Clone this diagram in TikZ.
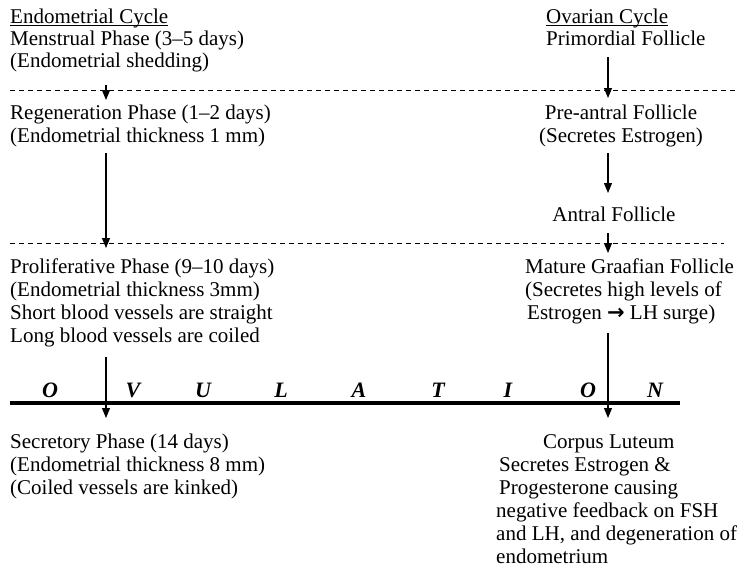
\documentclass[tikz,border=0pt]{standalone}
\usepackage{fontspec}
\setmainfont{Liberation Serif}
\newfontfamily\symfont{DejaVu Sans}
\usetikzlibrary{arrows.meta}
\begin{document}
\begin{tikzpicture}[x=1pt,y=-1pt,
  txt/.style={anchor=base west,inner sep=0pt,font=\fontsize{21}{22}\selectfont},
  ctxt/.style={anchor=base,inner sep=0pt,font=\fontsize{21}{22}\selectfont},
  ovl/.style={anchor=base,inner sep=0pt,font=\fontsize{22}{22}\selectfont\bfseries\itshape},
  arr/.style={line width=1.1pt,-{Triangle[width=8pt,length=10pt]}},
  sep/.style={dashed,dash pattern=on 5pt off 4pt,line width=0.8pt},
  uline/.style={line width=0.8pt},
  ovline/.style={line width=3.8pt}]
\useasboundingbox (0,0) rectangle (742,576);
% left column
\node[txt] (eh) at (10,23) {Endometrial Cycle};
\draw[uline] ([yshift=-2.5pt]eh.base west) -- ([yshift=-2.5pt]eh.base east);
\node[txt] (m1) at (10,45) {Menstrual Phase (3–5 days)};
\node[txt] (m2) at (10,67) {(Endometrial shedding)};
\node[txt] (r1) at (10,119) {Regeneration Phase (1–2 days)};
\node[txt] (r2) at (10,142) {(Endometrial thickness 1 mm)};
\node[txt] (p1) at (10,273) {Proliferative Phase (9–10 days)};
\node[txt] (p2) at (10,296) {(Endometrial thickness 3mm)};
\node[txt] (p3) at (10,319) {Short blood vessels are straight};
\node[txt] (p4) at (10,342) {Long blood vessels are coiled};
\node[txt] (s1) at (10,448) {Secretory Phase (14 days)};
\node[txt] (s2) at (10,471) {(Endometrial thickness 8 mm)};
\node[txt] (s3) at (10,494) {(Coiled vessels are kinked)};
% right column
\node[txt] (oh) at (546,23) {Ovarian Cycle};
\draw[uline] ([yshift=-2.5pt]oh.base west) -- ([yshift=-2.5pt]oh.base east);
\node[txt] (pf) at (546,45) {Primordial Follicle};
\node[ctxt] (pa1) at (621,119) {Pre-antral Follicle};
\node[ctxt] (pa2) at (621,142) {(Secretes Estrogen)};
\node[ctxt] (af) at (614,221) {Antral Follicle};
\node[txt] (g1) at (525,273) {Mature Graafian Follicle};
\node[txt] (g2) at (525,296) {(Secretes high levels of};
\node[txt] (g3) at (527,319) {Estrogen {\symfont\bfseries →} LH surge)};
\node[txt] (c1) at (543,448) {Corpus Luteum};
\node[txt] (c2) at (499,471) {Secretes Estrogen \&};
\node[txt] (c3) at (499,494) {Progesterone causing};
\node[txt] (c4) at (496,517) {negative feedback on FSH};
\node[txt] (c5) at (496,540) {and LH, and degeneration of};
\node[txt] (c6) at (496,563) {endometrium};
% separators
\coordinate (d1a) at (10,90); \coordinate (d1b) at (738,90);
\coordinate (d2a) at (10,243); \coordinate (d2b) at (724,243);
\draw[sep] (d1a) -- (d1b);
\draw[sep] (d2a) -- (d2b);
% ovulation line
\coordinate (ova) at (10,403); \coordinate (ovb) at (680,403);
\draw[ovline] (ova) -- (ovb);
\node[ovl] (o1) at (50,397) {O};
\node[ovl] (o2) at (133,397) {V};
\node[ovl] (o3) at (203,397) {U};
\node[ovl] (o4) at (281,397) {L};
\node[ovl] (o5) at (359,397) {A};
\node[ovl] (o6) at (438,397) {T};
\node[ovl] (o7) at (508,397) {I};
\node[ovl] (o8) at (588,397) {O};
\node[ovl] (o9) at (655,397) {N};
% arrow end points
\coordinate (a1s) at (106,85);  \coordinate (a1e) at (106,100);
\coordinate (a2s) at (106,153); \coordinate (a2e) at (106,248);
\coordinate (a3s) at (106,357); \coordinate (a3e) at (106,418);
\coordinate (b1s) at (608,57);  \coordinate (b1e) at (608,98);
\coordinate (b2s) at (608,153); \coordinate (b2e) at (608,193);
\coordinate (b3s) at (608,233); \coordinate (b3e) at (608,253);
\coordinate (b4s) at (608,333); \coordinate (b4e) at (608,418);
\draw[arr] (a1s) -- (a1e);
\draw[arr] (a2s) -- (a2e);
\draw[arr] (a3s) -- (a3e);
\draw[arr] (b1s) -- (b1e);
\draw[arr] (b2s) -- (b2e);
\draw[arr] (b3s) -- (b3e);
\draw[arr] (b4s) -- (b4e);
\end{tikzpicture}
\end{document}
